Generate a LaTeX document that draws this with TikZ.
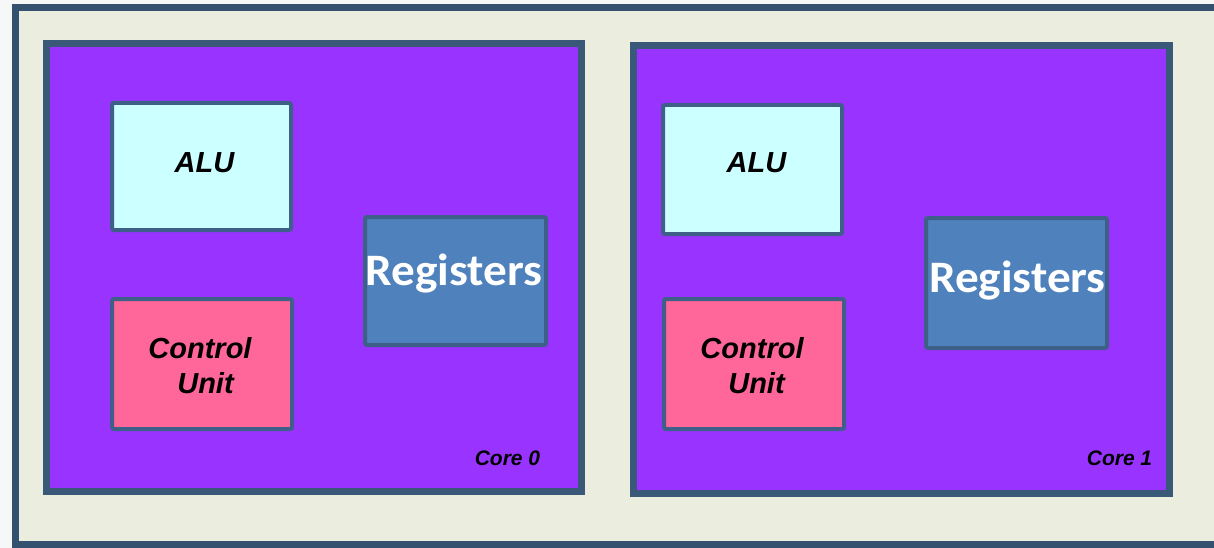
\documentclass[tikz,border=0pt]{standalone}
\usepackage{fontspec}
\setmainfont{Liberation Sans}
\newfontfamily\regfont[FakeStretch=1.05]{Carlito}
\definecolor{pagebg}{HTML}{F6F8F8}
\definecolor{chipbg}{HTML}{EBEDDE}
\definecolor{framecol}{HTML}{34516F}
\definecolor{corefill}{HTML}{9933FF}
\definecolor{coreedge}{HTML}{3A5878}
\definecolor{unitedge}{HTML}{3D5F88}
\definecolor{alufill}{HTML}{CCFFFF}
\definecolor{cufill}{HTML}{FF6699}
\definecolor{regfill}{HTML}{4F81BD}
\tikzset{
  chipframe/.style={draw=framecol, line width=7pt, fill=chipbg},
  corebox/.style={draw=coreedge, line width=7pt, fill=corefill},
  unitbox/.style={draw=unitedge, line width=4pt, rounded corners=2pt},
  alubox/.style={unitbox, fill=alufill},
  cubox/.style={unitbox, fill=cufill},
  regbox/.style={unitbox, fill=regfill},
  unittext/.style={anchor=base, inner sep=0pt, font=\fontsize{29}{34}\selectfont\bfseries\itshape, text=black},
  regtext/.style={anchor=base, inner sep=0pt, font=\regfont\fontsize{45}{50}\selectfont\bfseries, text=white},
  coretext/.style={anchor=base, inner sep=0pt, font=\fontsize{21}{24}\selectfont\bfseries\itshape, text=black},
}
\begin{document}
\begin{tikzpicture}[x=1pt, y=-1pt]
  \path[use as bounding box] (0,0) rectangle (1214,548);
  \clip (0,0) rectangle (1214,548);
  \fill[pagebg] (0,0) rectangle (1214,548);

  % chip package frame
  \draw[chipframe] (15.5,7.5) rectangle (1232,544.5);

  % core 0
  \draw[corebox] (46.5,43.5) rectangle (581.5,491);
  \draw[alubox] (112,103) rectangle (291,230);
  \draw[cubox]  (112,299) rectangle (292,429);
  \draw[regbox] (365,217) rectangle (546,345);
  \node[unittext] (alu0) at (204.5,173) {ALU};
  \node[unittext] (cu0a) at (200,358) {Control};
  \node[unittext] (cu0b) at (205.5,393) {Unit};
  \node[regtext]  (reg0) at (454,285) {Registers};
  \node[coretext] (core0) at (507.5,465) {Core 0};

  % core 1
  \draw[corebox] (633.5,45.5) rectangle (1169.5,493);
  \draw[alubox] (663,105) rectangle (842,234);
  \draw[cubox]  (664,299) rectangle (844,429);
  \draw[regbox] (926,218) rectangle (1107,348);
  \node[unittext] (alu1) at (756.5,173) {ALU};
  \node[unittext] (cu1a) at (752,358) {Control};
  \node[unittext] (cu1b) at (756.5,393) {Unit};
  \node[regtext]  (reg1) at (1017.5,292) {Registers};
  \node[coretext] (core1) at (1119.5,465) {Core 1};
\end{tikzpicture}
\end{document}
